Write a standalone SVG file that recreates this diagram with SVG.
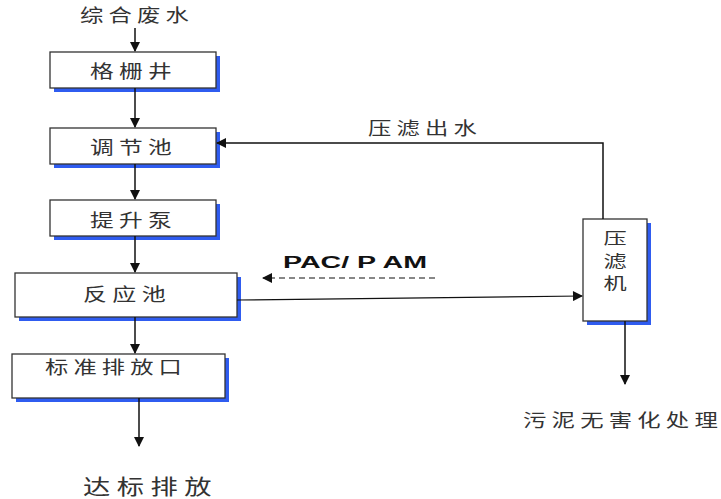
<svg xmlns="http://www.w3.org/2000/svg" width="721" height="499" viewBox="0 0 721 499">
<defs>
<style>
.box{fill:#fff;stroke:#333;stroke-width:1.3}
.sh{fill:#2f5cf0}
.t{font-family:"Noto Sans CJK SC","Noto Sans",sans-serif;fill:#333;font-size:18px;letter-spacing:4px}
.ln{stroke:#111;stroke-width:1.5;fill:none}
.b{font-family:"Liberation Sans",Arial,sans-serif;font-weight:bold;font-size:16px;fill:#111}
</style>
<marker id="ah" viewBox="0 0 10 10" refX="9" refY="5" markerWidth="10" markerHeight="10" markerUnits="userSpaceOnUse" orient="auto">
<path d="M0,0 L10,5 L0,10 Z" fill="#111"/>
</marker>
<marker id="ah2" viewBox="0 0 10 10" refX="9" refY="5" markerWidth="12" markerHeight="10" markerUnits="userSpaceOnUse" orient="auto">
<path d="M0,0 L10,5 L0,10 Z" fill="#111"/>
</marker>
</defs>
<rect width="721" height="499" fill="#fff"/>
<text class="t" x="80" y="22" textLength="114" lengthAdjust="spacingAndGlyphs">综合废水</text>
<g id="n1"><rect class="sh" x="54" y="56" width="166" height="36"/><rect class="box" x="50" y="52" width="166" height="36"/><text class="t" x="90" y="78" textLength="87" lengthAdjust="spacingAndGlyphs">格栅井</text></g>
<g id="n2"><rect class="sh" x="54" y="132" width="166" height="36"/><rect class="box" x="50" y="128" width="166" height="36"/><text class="t" x="90" y="154" textLength="87" lengthAdjust="spacingAndGlyphs">调节池</text></g>
<g id="n3"><rect class="sh" x="54" y="204" width="166" height="36"/><rect class="box" x="50" y="200" width="166" height="36"/><text class="t" x="90" y="227" textLength="87" lengthAdjust="spacingAndGlyphs">提升泵</text></g>
<g id="n4"><rect class="sh" x="19" y="277" width="222" height="44"/><rect class="box" x="15" y="273" width="222" height="44"/><text class="t" x="83" y="301" textLength="88" lengthAdjust="spacingAndGlyphs">反应池</text></g>
<g id="n5"><rect class="sh" x="16" y="358" width="213" height="44"/><rect class="box" x="12" y="354" width="213" height="44"/><text class="t" x="45" y="374" textLength="142" lengthAdjust="spacingAndGlyphs">标准排放口</text></g>
<g id="n6"><rect class="sh" x="587" y="223" width="64" height="102"/><rect class="box" x="583" y="219" width="64" height="102"/>
<text class="t" transform="translate(615,0) scale(1.45,1)" x="0" y="230" style="writing-mode:vertical-rl;font-size:16px;letter-spacing:6.5px">压滤机</text></g>
<text class="t" x="83" y="494" style="font-size:21px;letter-spacing:5px" textLength="135" lengthAdjust="spacingAndGlyphs">达标排放</text>
<text class="t" x="368" y="135" textLength="114" lengthAdjust="spacingAndGlyphs">压滤出水</text>
<text class="t" x="523" y="427" textLength="200" lengthAdjust="spacingAndGlyphs">污泥无害化处理</text>
<text class="b" x="283" y="268" textLength="144" lengthAdjust="spacingAndGlyphs">PAC/ P AM</text>
<g id="connectors">
<line class="ln" x1="135" y1="28" x2="135" y2="51" marker-end="url(#ah)"/>
<line class="ln" x1="135" y1="88" x2="135" y2="127" marker-end="url(#ah)"/>
<line class="ln" x1="135" y1="164" x2="135" y2="199" marker-end="url(#ah)"/>
<line class="ln" x1="135" y1="236" x2="135" y2="272" marker-end="url(#ah)"/>
<line class="ln" x1="135" y1="317" x2="135" y2="353" marker-end="url(#ah)"/>
<line class="ln" x1="139" y1="398" x2="139" y2="446" marker-end="url(#ah)"/>
<polyline class="ln" points="603,219 603,143 217,143" marker-end="url(#ah)"/>
<line class="ln" x1="237" y1="300" x2="582" y2="296" marker-end="url(#ah2)" style="stroke-width:1.2"/>
<line class="ln" x1="435" y1="278" x2="263" y2="278" marker-end="url(#ah2)" style="stroke-width:1.2;stroke-dasharray:6,4"/>
<line class="ln" x1="625" y1="321" x2="625" y2="384" marker-end="url(#ah)"/>
</g>
</svg>
